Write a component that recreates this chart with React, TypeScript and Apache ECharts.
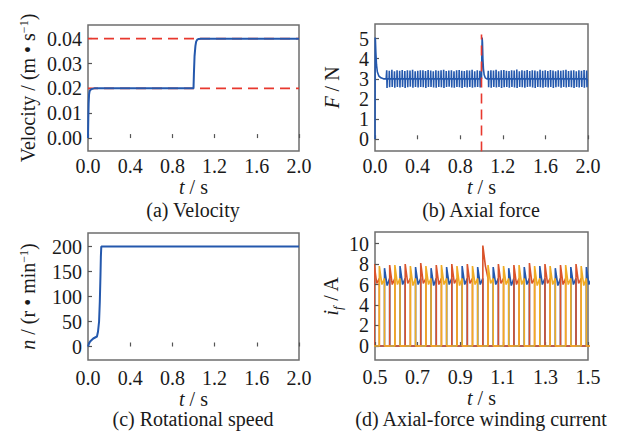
import React, { useEffect, useRef } from "react";
import * as echarts from "echarts";

const FONT = "'Liberation Serif', 'Times New Roman', serif";
const FS = 20;
const TXT = "#1a1a1a";
const BLUE = "#2458ad";
const RED_DASH = "#e8382e";
const RED = "#d9532b";
const YELLOW = "#f0ac24";

// ---------- (a) Velocity ----------
const velTime = [0, 0.003, 0.006, 0.01, 0.015, 0.025, 0.04, 0.06, 1.0, 1.004, 1.01, 1.018, 1.025, 1.035, 1.05, 1.07, 2.0];
const velValue = [0, 0.008, 0.014, 0.0175, 0.0188, 0.0195, 0.0198, 0.02, 0.02, 0.026, 0.033, 0.037, 0.0388, 0.0396, 0.0399, 0.04, 0.04];
const velRefLow = 0.02;
const velRefHigh = 0.04;
const velTicks = [0, 0.01, 0.02, 0.03, 0.04];
const timeTicks = [0, 0.4, 0.8, 1.2, 1.6, 2.0];

// ---------- (b) Axial force ----------
const forceStartTime = [0, 0.002, 0.004, 0.008, 0.014, 0.022, 0.035, 0.055, 0.08, 0.105];
const forceStartValue = [0, 5.05, 4.9, 4.3, 3.7, 3.35, 3.15, 3.05, 3.0, 3.0];
const forceStepTime = [1.0, 1.006, 1.009, 1.013, 1.018, 1.025, 1.035, 1.05, 1.06];
const forceStepValue = [3.0, 5.05, 4.8, 4.0, 3.5, 3.2, 3.05, 3.0, 3.0];
const forceRipplePeriod = 0.0243;
const forceRippleHigh1 = [3.42, 3.4, 3.45, 3.38, 3.43, 3.4, 3.44, 3.39, 3.42, 3.41, 3.45, 3.38, 3.4, 3.43, 3.42, 3.39, 3.44, 3.41, 3.38, 3.43, 3.4, 3.42, 3.45, 3.39, 3.41, 3.43, 3.38, 3.42, 3.44, 3.4, 3.39, 3.43, 3.41, 3.45, 3.38, 3.42, 3.4];
const forceRippleLow1 = [2.55, 2.58, 2.6, 2.56, 2.59, 2.57, 2.6, 2.55, 2.58, 2.61, 2.56, 2.59, 2.57, 2.6, 2.58, 2.55, 2.59, 2.6, 2.57, 2.56, 2.6, 2.58, 2.55, 2.59, 2.61, 2.57, 2.56, 2.6, 2.58, 2.55, 2.59, 2.57, 2.6, 2.56, 2.58, 2.59, 2.57];
const forceRippleHigh2 = [3.4, 3.43, 3.41, 3.45, 3.38, 3.42, 3.44, 3.4, 3.39, 3.43, 3.41, 3.46, 3.38, 3.42, 3.4, 3.44, 3.39, 3.43, 3.41, 3.38, 3.45, 3.4, 3.42, 3.39, 3.44, 3.41, 3.38, 3.43, 3.4, 3.42, 3.45, 3.39, 3.41, 3.43, 3.38, 3.42, 3.4, 3.44, 3.41];
const forceRippleLow2 = [2.58, 2.56, 2.6, 2.57, 2.59, 2.55, 2.58, 2.6, 2.56, 2.59, 2.57, 2.55, 2.6, 2.58, 2.56, 2.59, 2.61, 2.57, 2.55, 2.6, 2.58, 2.56, 2.59, 2.57, 2.6, 2.55, 2.58, 2.61, 2.56, 2.59, 2.57, 2.6, 2.58, 2.55, 2.59, 2.57, 2.6, 2.56, 2.58];
const forceMean = 3.0;
const forceCmdTime = 1.0;
const forceCmdSpan = [-0.6, 5.2];
const forceTicks = [0, 1, 2, 3, 4, 5];

// ---------- (c) Rotational speed ----------
const speedTime = [0, 0.01, 0.02, 0.05, 0.085, 0.095, 0.105, 0.112, 0.118, 0.122, 0.126, 2.0];
const speedValue = [0, 6, 10, 16, 20, 30, 50, 90, 140, 180, 200, 200];
const speedTicks = [0, 50, 100, 150, 200];

// ---------- (d) Axial-force winding current ----------
const curTicks = [0, 2, 4, 6, 8, 10];
const curTimeTicks = [0.5, 0.7, 0.9, 1.1, 1.3, 1.5];
const commPeriod = 0.0243;
const firstComm = 0.4717;
// conduction order: blue -> red -> yellow
const bluePeaks = [7.7, 7.6, 7.8, 7.7, 7.6, 7.7, 7.8, 7.7, 7.7, 7.6, 7.7, 7.8, 7.6, 7.7, 7.7];
const redPeaks = [8.0, 7.9, 8.0, 8.1, 7.9, 8.0, 8.0, 9.8, 8.0, 7.9, 8.1, 8.0, 7.9, 8.0, 8.1];
const yellowPeaks = [7.8, 7.9, 7.8, 7.8, 7.9, 7.8, 7.8, 7.9, 7.8, 7.9, 7.8, 7.8, 7.9, 7.8, 7.8];
const blueTroughs = [6.0, 5.9, 6.0, 6.0, 5.9, 6.0, 6.0, 6.0, 6.0, 5.9, 6.0, 6.0, 5.9, 6.0, 6.0];
const redTroughs = [6.1, 6.0, 6.1, 6.1, 6.0, 6.1, 6.1, 7.8, 6.1, 6.0, 6.1, 6.1, 6.0, 6.1, 6.1];
const yellowTroughs = [6.0, 6.0, 5.9, 6.0, 6.0, 5.9, 6.0, 6.1, 6.0, 6.0, 5.9, 6.0, 6.0, 5.9, 6.0];
const pulseEnd = 6.6;

function rippleSeries(start: number, highs: number[], lows: number[]) {
  const pts: number[][] = [];
  highs.forEach((h, i) => {
    const t = start + i * forceRipplePeriod;
    pts.push([t, forceMean], [t + 0.002, h], [t + 0.005, lows[i]], [t + 0.007, forceMean]);
  });
  return pts;
}

function phaseSeries(phase: number, peaks: number[], troughs: number[]) {
  const pts: number[][] = [[0.4, 0]];
  let n = 0;
  for (let k = 0; k < 46; k++) {
    if (k % 3 !== phase) continue;
    const c0 = firstComm + k * commPeriod;
    const c1 = c0 + commPeriod;
    const p = peaks[n] ?? peaks[peaks.length - 1];
    const tr = troughs[n] ?? troughs[troughs.length - 1];
    pts.push([c0, 0], [c0, p], [c0 + 0.5 * commPeriod, tr], [c1, pulseEnd], [c1, 0]);
    n++;
  }
  pts.push([1.6, 0]);
  return pts;
}

const zip = (a: number[], b: number[]) => a.map((v, i) => [v, b[i]]);

const baseText = { fontFamily: FONT, fontSize: FS, color: TXT };

function xAxisCfg(grid: number, min: number, max: number, ticks: number[], digits: number, labelMargin: number, nameGap: number) {
  return {
    type: "value",
    gridIndex: grid,
    min,
    max,
    axisLine: { show: false },
    axisTick: { show: true, inside: true, length: 4, customValues: ticks, lineStyle: { color: "#555", width: 1.2 } },
    axisLabel: { ...baseText, margin: labelMargin, customValues: ticks, showMinLabel: true, showMaxLabel: true, formatter: (v: number) => v.toFixed(digits) },
    splitLine: { show: false },
    name: "{i|t} / s",
    nameLocation: "middle",
    nameGap,
    nameTextStyle: { ...baseText, rich: { i: { ...baseText, fontStyle: "italic" } } },
  };
}

function yAxisCfg(grid: number, min: number, max: number, ticks: number[], fmt: (v: number) => string, name: string, nameGap: number, rich: any) {
  return {
    type: "value",
    gridIndex: grid,
    min,
    max,
    axisLine: { show: false },
    axisTick: { show: true, inside: true, length: 4, customValues: ticks, lineStyle: { color: "#555", width: 1.2 } },
    axisLabel: { ...baseText, margin: 6, customValues: ticks, formatter: fmt },
    splitLine: { show: false },
    name,
    nameLocation: "middle",
    nameGap,
    nameTextStyle: { ...baseText, rich },
  };
}

const richSup = {
  n: { ...baseText },
  i: { ...baseText, fontStyle: "italic" },
  s: { ...baseText, fontSize: 12, verticalAlign: "top", lineHeight: 20 },
  sub: { ...baseText, fontSize: 13, fontStyle: "italic", verticalAlign: "bottom", lineHeight: 26 },
};

export default function App() {
  const ref = useRef<HTMLDivElement>(null);
  useEffect(() => {
    document.body.style.margin = "0";
    const chart = echarts.init(ref.current!, undefined, { renderer: "svg" });
    const gridStyle = { show: true, borderColor: "#6e6e6e", borderWidth: 1.5, backgroundColor: "transparent" };
    const lineBase = { type: "line", showSymbol: false, symbol: "none", silent: true };
    const cap = (text: string, x: number, y: number) => ({
      type: "text", x, y,
      style: { text, font: `${FS}px ${FONT}`, fill: TXT, textAlign: "center", textVerticalAlign: "middle" },
    });
    chart.setOption({
      animation: false,
      backgroundColor: "#fff",
      grid: [
        { left: 88, top: 25, width: 211, height: 126, ...gridStyle },
        { left: 375, top: 24, width: 213, height: 127, ...gridStyle },
        { left: 88, top: 233, width: 211, height: 127, ...gridStyle },
        { left: 375, top: 232, width: 213, height: 128, ...gridStyle },
      ],
      xAxis: [
        xAxisCfg(0, 0, 2, timeTicks, 1, 5, 26),
        xAxisCfg(1, 0, 2, timeTicks, 1, 5, 26),
        xAxisCfg(2, 0, 2, timeTicks, 1, 8, 27),
        xAxisCfg(3, 0.5, 1.5, curTimeTicks, 1, 7, 27),
      ],
      yAxis: [
        yAxisCfg(0, -0.0052, 0.0455, velTicks, (v) => v.toFixed(2), "{n|Velocity / (m • s}{s|−1}{n|)}", 50, richSup),
        yAxisCfg(1, -0.58, 5.72, forceTicks, (v) => v.toFixed(0), "{i|F}{n| / N}", 33, richSup),
        yAxisCfg(2, -27, 227, speedTicks, (v) => v.toFixed(0), "{i|n}{n| / (r • min}{s|−1}{n|)}", 50, richSup),
        yAxisCfg(3, -1.37, 11.13, curTicks, (v) => v.toFixed(0), "{i|i}{sub|f}{n| / A}", 31, richSup),
      ],
      series: [
        { ...lineBase, xAxisIndex: 0, yAxisIndex: 0, data: [[0, velRefHigh], [2, velRefHigh]], lineStyle: { color: RED_DASH, width: 1.6, type: [10, 6] } },
        { ...lineBase, xAxisIndex: 0, yAxisIndex: 0, data: [[0, velRefLow], [2, velRefLow]], lineStyle: { color: RED_DASH, width: 1.6, type: [10, 6] } },
        { ...lineBase, xAxisIndex: 0, yAxisIndex: 0, data: zip(velTime, velValue), lineStyle: { color: BLUE, width: 2 } },

        {
          ...lineBase, xAxisIndex: 1, yAxisIndex: 1,
          data: [
            ...zip(forceStartTime, forceStartValue),
            ...rippleSeries(0.108, forceRippleHigh1, forceRippleLow1),
            ...zip(forceStepTime, forceStepValue),
            ...rippleSeries(1.062, forceRippleHigh2, forceRippleLow2),
          ],
          lineStyle: { color: BLUE, width: 1.6 },
        },
        { ...lineBase, xAxisIndex: 1, yAxisIndex: 1, data: [[forceCmdTime, forceCmdSpan[0]], [forceCmdTime, forceCmdSpan[1]]], lineStyle: { color: RED_DASH, width: 1.6, type: [10, 6] } },

        { ...lineBase, xAxisIndex: 2, yAxisIndex: 2, data: zip(speedTime, speedValue), lineStyle: { color: BLUE, width: 2 } },

        { ...lineBase, xAxisIndex: 3, yAxisIndex: 3, data: phaseSeries(0, bluePeaks, blueTroughs), lineStyle: { color: BLUE, width: 1.6 } },
        { ...lineBase, xAxisIndex: 3, yAxisIndex: 3, data: phaseSeries(1, redPeaks, redTroughs), lineStyle: { color: RED, width: 1.6 } },
        { ...lineBase, xAxisIndex: 3, yAxisIndex: 3, data: phaseSeries(2, yellowPeaks, yellowTroughs), lineStyle: { color: YELLOW, width: 1.6 } },
      ],
      graphic: [
        cap("(a) Velocity", 193, 210),
        cap("(b) Axial force", 481, 210),
        cap("(c) Rotational speed", 193, 419),
        cap("(d) Axial-force winding current", 481, 419),
      ],
    });
    return () => chart.dispose();
  }, []);
  return <div ref={ref} style={{ width: 632, height: 432 }} />;
}
